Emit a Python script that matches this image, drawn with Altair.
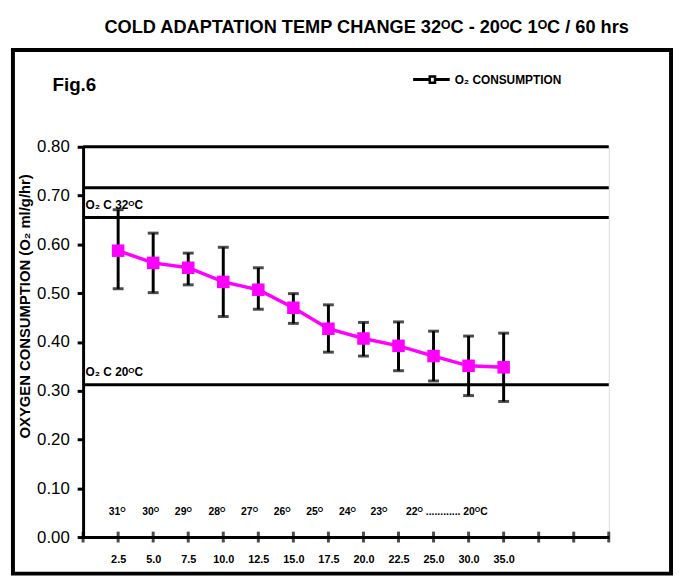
import altair as alt
import pandas as pd

# ---- data ----
x_labels = ["2.5", "5.0", "7.5", "10.0", "12.5", "15.0", "17.5", "20.0", "22.5", "25.0", "30.0", "35.0"]
o2_mean = [0.587, 0.562, 0.552, 0.523, 0.507, 0.470, 0.427, 0.407, 0.392, 0.371, 0.351, 0.348]
o2_upper = [0.671, 0.623, 0.582, 0.594, 0.552, 0.499, 0.476, 0.440, 0.441, 0.422, 0.412, 0.418]
o2_lower = [0.509, 0.501, 0.517, 0.452, 0.467, 0.438, 0.379, 0.371, 0.341, 0.320, 0.290, 0.278]

temp_labels = ["31ᴼ", "30ᴼ", "29ᴼ", "28ᴼ", "27ᴼ", "26ᴼ", "25ᴼ", "24ᴼ", "23ᴼ", "22ᴼ ............ 20ᴼC"]
temp_label_pos = [0.97, 1.93, 2.86, 3.82, 4.75, 5.68, 6.61, 7.54, 8.44, 10.38]
temp_label_level = 0.051

ref_levels = [0.80, 0.716, 0.655, 0.312]
ref_texts = ["O₂ C 32ᴼC", "O₂ C 20ᴼC"]
ref_text_levels = [0.681, 0.339]

n_slots = 15
y_ticks = [0.0, 0.1, 0.2, 0.3, 0.4, 0.5, 0.6, 0.7, 0.8]

FONT = "Liberation Sans, Arial, sans-serif"

df = pd.DataFrame({
    "idx": list(range(1, len(x_labels) + 1)),
    "label": x_labels,
    "mean": o2_mean,
    "hi": o2_upper,
    "lo": o2_lower,
})
ticks_df = pd.DataFrame({"idx": list(range(0, n_slots + 1)), "zero": [0.0] * (n_slots + 1)})
temps_df = pd.DataFrame({"pos": temp_label_pos, "t": temp_labels, "lvl": [temp_label_level] * len(temp_labels)})
refs_df = pd.DataFrame({"lvl": ref_levels, "a": [0] * len(ref_levels), "b": [n_slots] * len(ref_levels)})
reftxt_df = pd.DataFrame({"t": ref_texts, "lvl": ref_text_levels, "pos": [0.07] * len(ref_texts)})
one = pd.DataFrame({"k": [0]})

label_arr = "[" + ",".join(["''"] + ["'" + s + "'" for s in x_labels] + ["''"] * (n_slots - len(x_labels))) + "]"

xs = alt.Scale(domain=[0, n_slots], nice=False, zero=False)
ys = alt.Scale(domain=[0, 0.8], nice=False)

x_axis = alt.Axis(
    values=list(range(1, n_slots + 1)), labelExpr=label_arr + "[datum.value]",
    ticks=False, grid=False, domainWidth=3, domainColor="black",
    labelFont=FONT, labelFontWeight="bold", labelFontSize=11, labelColor="black",
    labelPadding=17, labelOverlap=False, labelBound=False, title=None,
)
y_axis = alt.Axis(
    values=y_ticks, format=".2f", grid=False, domainWidth=3, domainColor="black",
    tickWidth=3, tickSize=6, tickColor="black",
    labelFont=FONT, labelFontSize=17, labelColor="black", labelPadding=8, labelOverlap=False,
    title="OXYGEN CONSUMPTION (O₂ ml/g/hr)", titleFont=FONT, titleFontSize=15,
    titleFontWeight="bold", titleColor="black", titleX=-59, titleY=161,
    titleAlign="center", titleBaseline="middle", titleAngle=-90,
)


def X(f):
    return alt.X(f, scale=xs, axis=x_axis)


def Y(f):
    return alt.Y(f, scale=ys, axis=y_axis)


ref_lines = alt.Chart(refs_df).mark_rule(color="black", strokeWidth=3).encode(
    x=X("a:Q"), x2="b:Q", y=Y("lvl:Q"),
)
x_ticks = alt.Chart(ticks_df).mark_tick(color="black", thickness=3, size=11, orient="vertical").encode(
    x=X("idx:Q"), y=Y("zero:Q"),
)
err_rule = alt.Chart(df).mark_rule(color="black", strokeWidth=3).encode(
    x=X("idx:Q"), y=Y("lo:Q"), y2="hi:Q",
)
cap_hi = alt.Chart(df).mark_tick(color="black", thickness=3, size=11, orient="horizontal").encode(
    x=X("idx:Q"), y=Y("hi:Q"),
)
cap_lo = alt.Chart(df).mark_tick(color="black", thickness=3, size=11, orient="horizontal").encode(
    x=X("idx:Q"), y=Y("lo:Q"),
)
line = alt.Chart(df).mark_line(color="#ff00ff", strokeWidth=3.5).encode(
    x=X("idx:Q"), y=Y("mean:Q"),
)
pts = alt.Chart(df).mark_point(shape="square", filled=True, color="#ff00ff", size=160, opacity=1).encode(
    x=X("idx:Q"), y=Y("mean:Q"),
)
temps = alt.Chart(temps_df).mark_text(font=FONT, fontWeight="bold", fontSize=10.5, color="black", align="center", baseline="middle").encode(
    x=X("pos:Q"), y=Y("lvl:Q"), text="t:N",
)
reftxt = alt.Chart(reftxt_df).mark_text(font=FONT, fontWeight="bold", fontSize=12, color="black", align="left", baseline="middle").encode(
    x=X("pos:Q"), y=Y("lvl:Q"), text="t:N",
)

# decorations (frame, title, figure tag, legend)
frame = alt.Chart(one).mark_rect(fill=None, stroke="black", strokeWidth=4).encode(
    x=alt.value(-71), x2=alt.value(595), y=alt.value(-98), y2=alt.value(432),
)
title = alt.Chart(one).mark_text(
    text="COLD ADAPTATION TEMP CHANGE 32ᴼC - 20ᴼC 1ᴼC / 60 hrs",
    font=FONT, fontWeight="bold", fontSize=18.4, color="black", align="center", baseline="alphabetic",
).encode(x=alt.value(287), y=alt.value(-115))
fig = alt.Chart(one).mark_text(
    text="Fig.6", font=FONT, fontWeight="bold", fontSize=19, color="black", align="left", baseline="alphabetic",
).encode(x=alt.value(-31), y=alt.value(-56))
leg_line = alt.Chart(one).mark_rule(color="black", strokeWidth=3).encode(
    x=alt.value(334), x2=alt.value(371), y=alt.value(-68),
)
leg_sq = alt.Chart(one).mark_point(shape="M-0.42,-0.5L0.42,-0.5L0.42,0.5L-0.42,0.5Z", filled=True, fill="white",
                                    stroke="black", strokeWidth=2.5, size=160, opacity=1).encode(
    x=alt.value(353.5), y=alt.value(-68),
)
leg_txt = alt.Chart(one).mark_text(
    text="O₂ CONSUMPTION", font=FONT, fontWeight="bold", fontSize=12, color="black", align="left", baseline="middle",
).encode(x=alt.value(376), y=alt.value(-68))

chart = alt.layer(
    ref_lines, x_ticks, err_rule, cap_hi, cap_lo, line, pts, temps, reftxt,
    frame, title, fig, leg_line, leg_sq, leg_txt,
).properties(
    width=532, height=395,
    autosize=alt.AutoSizeParams(type="none"),
    padding={"left": 76, "top": 137, "right": 65, "bottom": 40},
).configure_view(stroke=None).configure_axisX(labelOverlap=False).configure(background="white")

chart.save("out.html", embed_options={"renderer": "svg", "actions": False})
